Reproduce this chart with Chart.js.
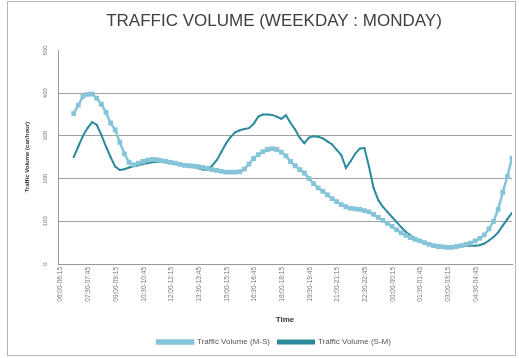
<!DOCTYPE html>
<html>
<head>
<meta charset="utf-8">
<script src="https://cdn.jsdelivr.net/npm/chart.js@4.4.0/dist/chart.umd.min.js"></script>
<style>
  body { margin: 0; background: #fff; }
  #wrap { position: relative; width: 519px; height: 358px; }
  #frame { position: absolute; left: 7px; top: 1px; width: 507px; height: 353px; border: 1px solid #b5b5b5; }
  canvas { position: absolute; left: 0; top: 0; }
</style>
</head>
<body>
<div id="wrap">
  <div id="frame"></div>
  <canvas id="trafficChart" width="519" height="358"></canvas>
</div>
<script>
// time slots (15 min), one label shown every 1.5 hours
const startHour = 6;
const timeSlots = [];
for (let i = 0; i < 96; i++) {
    const m = (startHour * 60 + i * 15) % 1440;
    const m2 = (m + 15) % 1440;
    const f = v => String(Math.floor(v / 60)).padStart(2, '0') + ':' + String(v % 60).padStart(2, '0');
    timeSlots.push(f(m) + '-' + f(m2));
}
const labelEvery = 6;

// Traffic Volume (M-S), car/hour
const volumeMS = [
    352, 372, 392, 397, 398, 388, 374, 355, 330, 314,
    285, 258, 238, 232, 236, 240, 243, 245, 244, 242,
    240, 238, 236, 233, 231, 230, 229, 228, 226, 224,
    221, 219, 217, 215, 215, 215, 216, 222, 234, 247,
    256, 263, 268, 270, 268, 262, 253, 240, 230, 221,
    213, 200, 188, 178, 170, 162, 153, 146, 139, 134,
    130, 129, 128, 125, 122, 116, 109, 102, 95, 88,
    80, 73, 67, 62, 58, 54, 50, 46, 43, 41,
    40, 39, 39, 41, 43, 46, 49, 54, 60, 68,
    82, 100, 128, 168, 205, 248
];

// Traffic Volume (S-M), car/hour
const volumeSM = [
    250, 275, 300, 318, 332, 326, 302, 275, 250, 228,
    220, 222, 226, 229, 231, 234, 236, 238, 239, 240,
    238, 236, 234, 233, 232, 229, 227, 224, 221, 220,
    230, 243, 262, 282, 297, 308, 313, 316, 318, 328,
    345, 350, 350, 349, 345, 340, 348, 330, 315, 295,
    283, 296, 299, 298, 294, 287, 280, 267, 255, 225,
    240, 258, 270, 272, 228, 178, 150, 134, 122, 110,
    98, 86, 75, 67, 60, 55, 51, 47, 44, 41,
    39, 38, 38, 39, 41, 43, 43, 43, 44, 48,
    55, 63, 74, 90, 105, 120
];

const yTicks = [0, 100, 200, 300, 400, 500];
const yTitle = 'Traffic Volume (car/hour)';

const lightBlue = '#86c4d9';
const darkTeal = '#2b8a9b';
const fontFamily = '"Liberation Sans", Arial, sans-serif';

// rotated y tick labels and y title, like the original sheet
const yLabelPlugin = {
    id: 'yLabels',
    afterDraw(chart) {
        const ctx = chart.ctx;
        const y = chart.scales.y;
        ctx.save();
        ctx.textAlign = 'center';
        ctx.textBaseline = 'middle';
        ctx.font = '6px ' + fontFamily;
        ctx.fillStyle = '#777';
        yTicks.forEach(v => {
            ctx.save();
            ctx.translate(45, y.getPixelForValue(v));
            ctx.rotate(-Math.PI / 2);
            ctx.fillText(String(v), 0, 0);
            ctx.restore();
        });
        ctx.font = 'bold 6px ' + fontFamily;
        ctx.fillStyle = '#333';
        ctx.translate(27, (y.top + y.bottom) / 2);
        ctx.rotate(-Math.PI / 2);
        ctx.fillText(yTitle, 0, 0);
        ctx.restore();
    }
};

const config = {
    type: 'line',
    data: {
        datasets: [{
            label: 'Traffic Volume (M-S)',
            data: volumeMS.map((v, i) => ({ x: i, y: v })),
            borderColor: lightBlue,
            backgroundColor: lightBlue,
            borderWidth: 2.5,
            pointStyle: 'rect',
            pointRadius: 3.4,
            pointBorderWidth: 0,
            tension: 0
        }, {
            label: 'Traffic Volume (S-M)',
            data: volumeSM.map((v, i) => ({ x: i, y: v })),
            borderColor: darkTeal,
            backgroundColor: darkTeal,
            borderWidth: 2,
            pointStyle: 'rect',
            pointRadius: 1.2,
            pointBorderWidth: 0,
            tension: 0
        }]
    },
    options: {
        responsive: false,
        animation: false,
        layout: { padding: { left: 36, right: 7, top: 0, bottom: 2 } },
        plugins: {
            title: {
                display: true,
                text: 'TRAFFIC VOLUME (WEEKDAY : MONDAY)',
                color: '#404040',
                font: { family: fontFamily, size: 17, weight: 'normal' },
                padding: { top: 11, bottom: 19 }
            },
            legend: {
                position: 'bottom',
                labels: {
                    color: '#555',
                    font: { family: fontFamily, size: 8 },
                    boxWidth: 36,
                    boxHeight: 3,
                    padding: 8
                }
            },
            tooltip: { enabled: false }
        },
        scales: {
            x: {
                type: 'linear',
                min: -3.4,
                max: 95,
                afterBuildTicks: scale => {
                    scale.ticks = timeSlots.map((t, i) => i).filter(i => i % labelEvery === 0).map(i => ({ value: i }));
                },
                afterFit: scale => { scale.height = 66; },
                grid: { display: false, drawTicks: false },
                border: { color: '#999' },
                ticks: {
                    autoSkip: false,
                    minRotation: 90,
                    maxRotation: 90,
                    labelOffset: -13,
                    padding: 3,
                    color: '#777',
                    font: { family: fontFamily, size: 6.5 },
                    callback: v => timeSlots[v]
                },
                title: {
                    display: true,
                    text: 'Time',
                    color: '#333',
                    font: { family: fontFamily, size: 8, weight: 'bold' },
                    padding: { top: 0, bottom: 5 }
                }
            },
            y: {
                min: 0,
                max: 500,
                afterFit: scale => { scale.width = 22; },
                ticks: { display: false, stepSize: 100 },
                grid: {
                    drawTicks: false,
                    color: ctx => ctx.tick && ctx.tick.value === 500 ? 'rgba(0,0,0,0)' : '#a0a0a0',
                    lineWidth: 1
                },
                border: { color: '#999' },
                title: { display: false }
            }
        }
    },
    plugins: [yLabelPlugin]
};

function initializeChart() {
    const ctx = document.getElementById('trafficChart').getContext('2d');
    new Chart(ctx, config);
}

document.addEventListener('DOMContentLoaded', function() {
    initializeChart();
});
</script>
</body>
</html>
